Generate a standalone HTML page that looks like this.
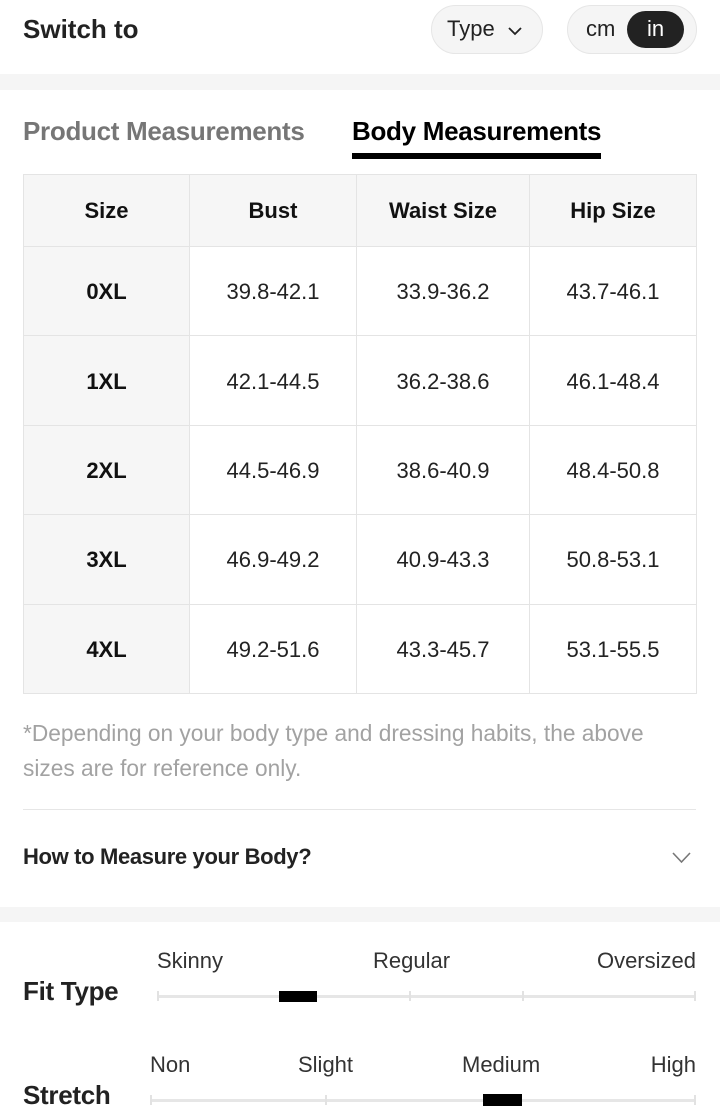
<!DOCTYPE html>
<html><head><meta charset="utf-8">
<style>
*{margin:0;padding:0;box-sizing:border-box}
html,body{width:720px;height:1119px;background:#fff;overflow:hidden}
body{position:relative;font-family:"Liberation Sans",Arial,sans-serif;color:#222}
.a{position:absolute;white-space:nowrap}
.band{position:absolute;left:0;width:720px;background:#f5f5f5}
table{position:absolute;left:23px;top:174px;border-collapse:collapse;table-layout:fixed}
td{border:1px solid #e4e4e4;text-align:center;vertical-align:middle;font-size:22px;color:#222}
tr.h td{height:72px;background:#f6f6f6;font-weight:bold;color:#111}
tr.r td{height:89.4px;padding-top:2px}
td.s{background:#f6f6f6;font-weight:bold;color:#111}
.track{position:absolute;height:3px;background:#e6e6e6}
.tick{position:absolute;width:2px;height:10px;background:#e2e2e2}
.blk{position:absolute;background:#000}
.lbl{position:absolute;font-size:22px;color:#333;white-space:nowrap;line-height:26px}
</style></head><body>

<div class="a" style="left:23px;top:13px;font-size:26px;font-weight:bold;color:#222;line-height:32px">Switch to</div>

<div class="a" style="left:431px;top:5px;width:112px;height:49px;border-radius:25px;background:#f5f5f5;border:1px solid #e6e6e6"></div>
<div class="a" style="left:447px;top:15px;font-size:22px;color:#222;line-height:28px">Type</div>
<svg class="a" style="left:506px;top:25px" width="18" height="12" viewBox="0 0 18 12"><polyline points="3,3 9,9 15,3" fill="none" stroke="#222" stroke-width="1.8"/></svg>

<div class="a" style="left:567px;top:5px;width:130px;height:49px;border-radius:25px;background:#f5f5f5;border:1px solid #e6e6e6"></div>
<div class="a" style="left:586px;top:15px;font-size:22px;color:#222;line-height:28px">cm</div>
<div class="a" style="left:627px;top:11px;width:57px;height:37px;border-radius:19px;background:#222;color:#fff;font-size:22px;text-align:center;line-height:36px">in</div>

<div class="band" style="top:74px;height:16px"></div>

<div class="a" style="left:23px;top:115px;font-size:26px;font-weight:bold;color:#767676;line-height:32px;letter-spacing:-0.3px">Product Measurements</div>
<div class="a" style="left:352px;top:115px;font-size:26px;font-weight:bold;color:#000;line-height:32px;letter-spacing:-0.3px">Body Measurements</div>
<div class="a" style="left:352px;top:153px;width:249px;height:6px;background:#000"></div>

<table>
<colgroup><col style="width:166px"><col style="width:167px"><col style="width:173px"><col style="width:167px"></colgroup>
<tr class="h"><td>Size</td><td>Bust</td><td>Waist Size</td><td>Hip Size</td></tr>
<tr class="r"><td class="s">0XL</td><td>39.8-42.1</td><td>33.9-36.2</td><td>43.7-46.1</td></tr>
<tr class="r"><td class="s">1XL</td><td>42.1-44.5</td><td>36.2-38.6</td><td>46.1-48.4</td></tr>
<tr class="r"><td class="s">2XL</td><td>44.5-46.9</td><td>38.6-40.9</td><td>48.4-50.8</td></tr>
<tr class="r"><td class="s">3XL</td><td>46.9-49.2</td><td>40.9-43.3</td><td>50.8-53.1</td></tr>
<tr class="r"><td class="s">4XL</td><td>49.2-51.6</td><td>43.3-45.7</td><td>53.1-55.5</td></tr>
</table>

<div class="a" style="left:23px;top:716px;font-size:22.7px;color:#a2a2a2;line-height:35px;white-space:normal;width:680px">*Depending on your body type and dressing habits, the above<br>sizes are for reference only.</div>

<div class="a" style="left:23px;top:809px;width:673px;height:1px;background:#e6e6e6"></div>

<div class="a" style="left:23px;top:843px;font-size:22px;font-weight:bold;color:#222;line-height:28px;letter-spacing:-0.35px">How to Measure your Body?</div>
<svg class="a" style="left:671px;top:851px" width="21" height="14" viewBox="0 0 21 14"><polyline points="2,2 10.5,11 19,2" fill="none" stroke="#777" stroke-width="1.6"/></svg>

<div class="band" style="top:907px;height:15px"></div>

<div class="a" style="left:23px;top:975px;font-size:26px;font-weight:bold;color:#222;line-height:32px;letter-spacing:-0.3px">Fit Type</div>
<div class="lbl" style="left:157px;top:948px">Skinny</div>
<div class="lbl" style="left:373px;top:948px">Regular</div>
<div class="lbl" style="right:24px;top:948px">Oversized</div>
<div class="track" style="left:158px;top:995px;width:538px"></div>
<div class="tick" style="left:157px;top:991px"></div>
<div class="tick" style="left:409px;top:991px"></div>
<div class="tick" style="left:522px;top:991px"></div>
<div class="tick" style="left:694px;top:991px"></div>
<div class="blk" style="left:279px;top:991px;width:38px;height:11px"></div>

<div class="a" style="left:23px;top:1079px;font-size:26px;font-weight:bold;color:#222;line-height:32px;letter-spacing:-0.3px">Stretch</div>
<div class="lbl" style="left:150px;top:1052px">Non</div>
<div class="lbl" style="left:298px;top:1052px">Slight</div>
<div class="lbl" style="left:462px;top:1052px">Medium</div>
<div class="lbl" style="right:24px;top:1052px">High</div>
<div class="track" style="left:151px;top:1099px;width:545px"></div>
<div class="tick" style="left:150px;top:1095px"></div>
<div class="tick" style="left:325px;top:1095px"></div>
<div class="tick" style="left:694px;top:1095px"></div>
<div class="blk" style="left:483px;top:1094px;width:39px;height:12px"></div>

</body></html>
